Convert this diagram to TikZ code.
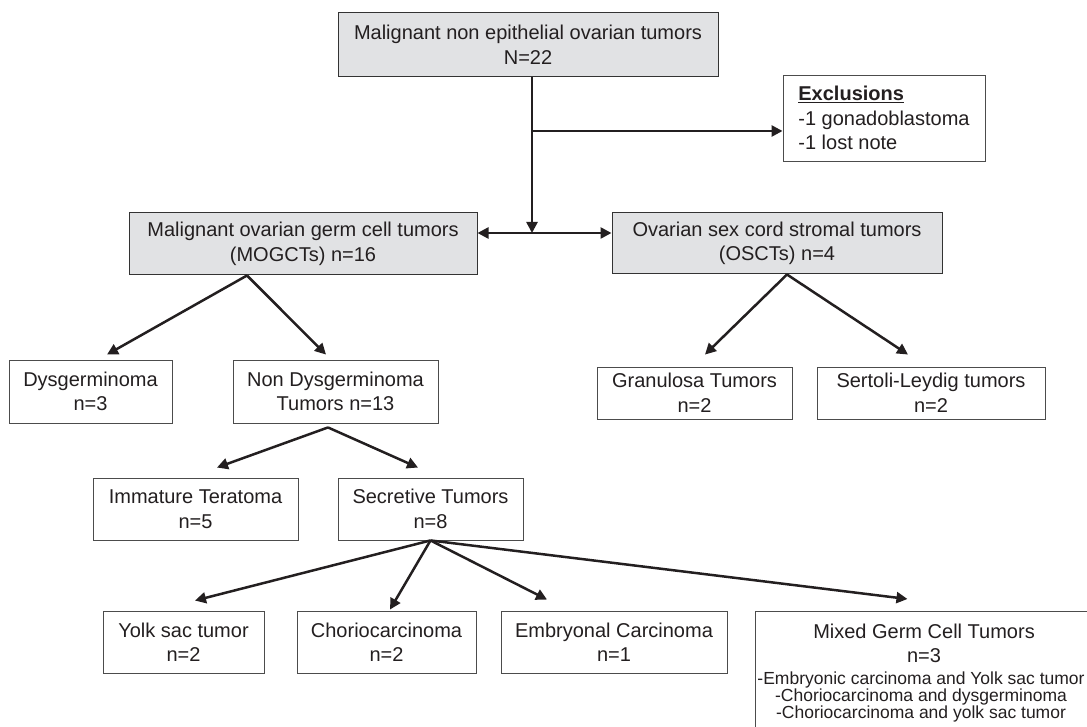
\documentclass[tikz,border=0pt]{standalone}
\usepackage{fontspec}
\setmainfont{Liberation Sans}
\usepackage{tikz}
\usetikzlibrary{positioning,arrows.meta}
\definecolor{boxgray}{HTML}{E1E2E4}
\definecolor{inkgray}{HTML}{231F20}

\begin{document}
\begin{tikzpicture}[x=1pt,y=-1pt,
  font=\fontsize{20}{24.5}\selectfont,text=inkgray,
  grp/.style={rectangle,draw=black!80,line width=1pt,fill=boxgray,inner sep=0pt,align=center},
  leaf/.style={rectangle,draw=black!70,line width=0.9pt,fill=white,inner sep=0pt,align=center},
  ar/.style={-{Triangle[length=11pt,width=11pt]},line width=2.5pt,draw=inkgray}]
\useasboundingbox (0,0) rectangle (1087,727);
% Top level and exclusions
\node[grp,minimum width=380,minimum height=64] (all) at (528,45) {Malignant non epithelial ovarian tumors\\N=22};
\node[leaf,minimum width=202,minimum height=86,align=left] (excl) at (884,118) {\textbf{\underline{Exclusions}}\\-1 gonadoblastoma\\-1 lost note};
\coordinate (fork) at (532,131);
\coordinate (split) at (532,233);
% Two families
\node[grp,minimum width=348,minimum height=62] (mog) at (303,244) {Malignant ovarian germ cell tumors\\(MOGCTs) n=16};
\node[grp,minimum width=330,minimum height=61] (osct) at (777,243.5) {Ovarian sex cord stromal tumors\\(OSCTs) n=4};
\draw[ar] (all.south -| split)--(split);
\draw[ar] (fork)--(fork -| excl.west);
\draw[ar] (split)--(split -| mog.east);
\draw[ar] (split)--(split -| osct.west);
% Germ cell branch
\node[leaf,minimum width=163,minimum height=63] (dys) at (90.5,391.5) {Dysgerminoma\\n=3};
\node[leaf,minimum width=205,minimum height=63] (nondys) at (335.5,391.5) {Non Dysgerminoma\\Tumors n=13};
\draw[ar] ([xshift=-56pt]mog.south)--([xshift=16.5pt,yshift=5pt]dys.north);
\draw[ar] ([xshift=-56pt]mog.south)--([xshift=-9.5pt,yshift=5pt]nondys.north);
% Sex cord branch
\node[leaf,minimum width=195,minimum height=52] (gran) at (694.5,393) {Granulosa Tumors\\n=2};
\node[leaf,minimum width=228,minimum height=52] (sert) at (931,393) {Sertoli-Leydig tumors\\n=2};
\draw[ar] ([xshift=10pt]osct.south)--([xshift=10.5pt,yshift=12pt]gran.north);
\draw[ar] ([xshift=10pt]osct.south)--([xshift=-23pt,yshift=12pt]sert.north);
% Non dysgerminoma
\node[leaf,minimum width=205,minimum height=62] (imm) at (195.5,509) {Immature Teratoma\\n=5};
\node[leaf,minimum width=185,minimum height=62] (secr) at (430.5,509) {Secretive Tumors\\n=8};
\draw[ar] ([xshift=-7.5pt,yshift=-4pt]nondys.south)--([xshift=21.5pt,yshift=10pt]imm.north);
\draw[ar] ([xshift=-7.5pt,yshift=-4pt]nondys.south)--([xshift=-12.5pt,yshift=10pt]secr.north);
% Secretive tumors
\node[leaf,minimum width=161,minimum height=62] (yolk) at (183.5,642) {Yolk sac tumor\\n=2};
\node[leaf,minimum width=179,minimum height=62] (chorio) at (386.5,642) {Choriocarcinoma\\n=2};
\node[leaf,minimum width=226,minimum height=62] (embr) at (614,642) {Embryonal Carcinoma\\n=1};
\node[leaf,minimum width=338,minimum height=140,anchor=north west] (mixed) at (755,611) {};
\node[inner sep=0pt,align=center,anchor=north] (mixtitle) at (924,623.5) {Mixed Germ Cell Tumors\\n=3};
\node[inner sep=0pt,align=center,anchor=north,font=\fontsize{17.5}{17}\selectfont] (mixlist) at (921,672) {-Embryonic carcinoma and Yolk sac tumor\\-Choriocarcinoma and dysgerminoma\\-Choriocarcinoma and yolk sac tumor};
\draw[ar] (secr.south)--([xshift=11.5pt,yshift=10pt]yolk.north);
\draw[ar] (secr.south)--([xshift=3.5pt,yshift=1pt]chorio.north);
\draw[ar] (secr.south)--([xshift=-67pt,yshift=11pt]embr.north);
\draw[ar] (secr.south)--([xshift=-17pt,yshift=12pt]mixed.north);
\end{tikzpicture}
\end{document}
